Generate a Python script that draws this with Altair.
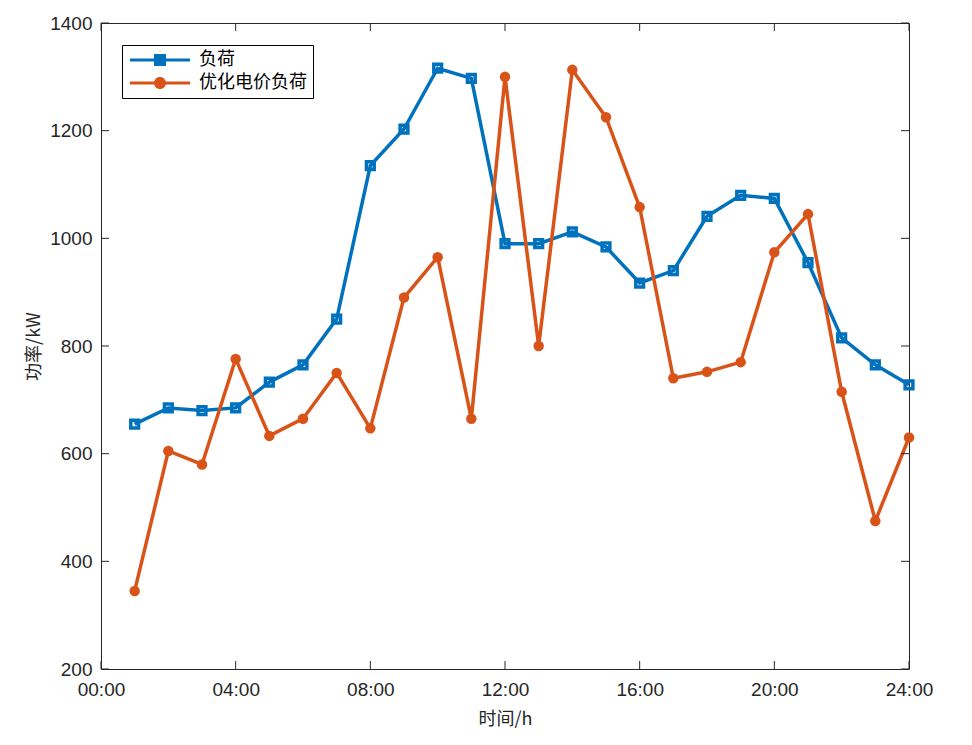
import altair as alt
import pandas as pd

hours = list(range(1, 25))
load = [655, 685, 680, 685, 733, 765, 850, 1135, 1203, 1316, 1297, 990,
        990, 1012, 984, 917, 940, 1041, 1080, 1074, 955, 815, 765, 728]
optimized = [345, 605, 580, 776, 633, 665, 750, 647, 890, 965, 665, 1300,
             800, 1313, 1225, 1058, 740, 752, 770, 974, 1045, 715, 475, 630]
series_names = ["负荷", "优化电价负荷"]
colors = ["#0072BD", "#D95319"]
x_ticks = [0, 4, 8, 12, 16, 20, 24]
y_ticks = [200, 400, 600, 800, 1000, 1200, 1400]

W, H = 808, 646
TICK = 8
LATIN = "Liberation Sans"
CJK = "Noto Sans CJK SC"

df = pd.DataFrame({
    "hour": hours * 2,
    "value": load + optimized,
    "series": [series_names[0]] * len(hours) + [series_names[1]] * len(hours),
})

xscale = alt.Scale(domain=[0, 24], nice=False, zero=False)
yscale = alt.Scale(domain=[200, 1400], nice=False, zero=False)

# legend symbols: a line 60px long with a marker in the middle (unit = 6px)
sq_path = "M-5,-0.25 L5,-0.25 L5,0.25 L-5,0.25 Z M-1,-1 L1,-1 L1,1 L-1,1 Z"
ci_path = "M-5,-0.25 L5,-0.25 L5,0.25 L-5,0.25 Z M1,0 A1,1 0 1,1 -1,0 A1,1 0 1,1 1,0 Z"

legend = alt.Legend(
    title=None, orient="none", legendX=21, legendY=22,
    symbolSize=144, symbolStrokeWidth=0, symbolOpacity=1, symbolOffset=23,
    labelFont=CJK, labelFontSize=18, labelColor="black", labelOffset=30,
    rowPadding=5, padding=6,
    strokeColor="black", fillColor="white",
)

xaxis = alt.Axis(values=x_ticks, title="时间/h", grid=False, ticks=False, domain=False,
                 labelExpr="(datum.value < 10 ? '0' : '') + datum.value + ':00'",
                 labelFlush=False,
                 labelFont=LATIN, labelFontSize=19, labelColor="#262626", labelPadding=11,
                 titleFont=CJK, titleFontSize=18, titleFontWeight="normal", titleColor="#262626",
                 titlePadding=11)
yaxis = alt.Axis(values=y_ticks, title="功率/kW", grid=False, ticks=False, domain=False,
                 format="d", labelFlush=False,
                 labelFont=LATIN, labelFontSize=19, labelColor="#262626", labelPadding=9,
                 titleFont=CJK, titleFontSize=18, titleFontWeight="normal", titleColor="#262626",
                 titlePadding=6)

base = alt.Chart(df)
X = alt.X("hour:Q", scale=xscale, axis=xaxis)
Y = alt.Y("value:Q", scale=yscale, axis=yaxis)

line0 = base.transform_filter(alt.datum.series == series_names[0]).mark_line(
    strokeWidth=3.5, color=colors[0]).encode(x=X, y=Y)
line1 = base.transform_filter(alt.datum.series == series_names[1]).mark_line(
    strokeWidth=3.5, color=colors[1]).encode(x=X, y=Y)
squares = base.transform_filter(alt.datum.series == series_names[0]).mark_point(
    shape="square", filled=False, size=60, strokeWidth=3.5, color=colors[0], opacity=1
).encode(x=X, y=Y)
circles = base.transform_filter(alt.datum.series == series_names[1]).mark_point(
    shape="circle", filled=True, size=110, color=colors[1], opacity=1
).encode(x=X, y=Y)
legend_layer = base.mark_point(filled=True, size=0, strokeWidth=0).encode(
    x=X, y=Y,
    color=alt.Color("series:N", scale=alt.Scale(domain=series_names, range=colors), legend=legend),
    shape=alt.Shape("series:N", scale=alt.Scale(domain=series_names, range=[sq_path, ci_path]), legend=legend),
)

xt = pd.DataFrame({"hour": x_ticks})
yt = pd.DataFrame({"value": y_ticks})
tb = alt.Chart(xt).mark_rule(color="#262626", strokeWidth=1).encode(
    x=X, y=alt.value(H), y2=alt.value(H - TICK))
tt = alt.Chart(xt).mark_rule(color="#262626", strokeWidth=1).encode(
    x=X, y=alt.value(0), y2=alt.value(TICK))
tl = alt.Chart(yt).mark_rule(color="#262626", strokeWidth=1).encode(
    y=Y, x=alt.value(0), x2=alt.value(TICK))
tr = alt.Chart(yt).mark_rule(color="#262626", strokeWidth=1).encode(
    y=Y, x=alt.value(W - TICK), x2=alt.value(W))

chart = alt.layer(line0, line1, squares, circles, legend_layer, tb, tt, tl, tr).properties(
    width=W, height=H, background="white",
    autosize=alt.AutoSizeParams(type="none"),
    padding={"left": 93, "top": 15, "right": 40, "bottom": 60},
).configure_view(stroke="#262626", strokeWidth=1)

chart.save("out.html", embed_options={"renderer": "svg", "actions": False})
